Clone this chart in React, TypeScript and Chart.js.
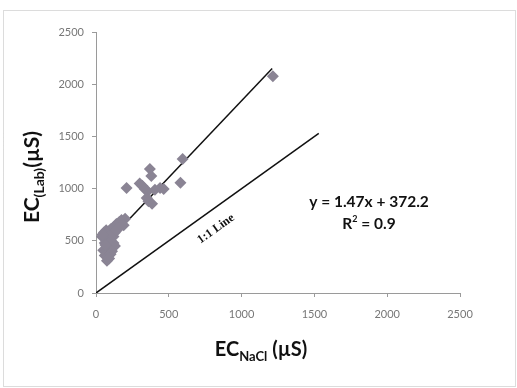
import { useEffect, useRef } from "react";
import { Chart, registerables } from "chart.js";
Chart.register(...registerables);

const ecNaCl = [
  1215, 595, 580, 370, 380, 210, 300, 318, 335, 355, 385, 405, 440, 465, 360, 348,
  40, 55, 70, 85, 100, 120, 140, 160, 175, 200, 190, 150, 130, 110, 90, 70,
  60, 80, 100, 120, 130, 50, 70, 90, 110, 60, 80, 100, 75, 90, 120, 140, 170, 45, 65,
];
const ecLab = [
  2075, 1283, 1055, 1188, 1120, 1005, 1050, 1028, 995, 975, 855, 990, 1005, 996, 880, 910,
  540, 580, 600, 590, 610, 630, 660, 680, 700, 712, 650, 620, 580, 560, 540, 520,
  480, 470, 500, 480, 450, 410, 400, 420, 400, 360, 350, 370, 310, 330, 540, 600, 640, 560, 460,
];
const trendX = [40, 1210];
const trendY = [431, 2151];
const oneToOneX = [0, 1530];
const oneToOneY = [0, 1530];
const xTicks = [0, 500, 1000, 1500, 2000, 2500];
const yTicks = [0, 500, 1000, 1500, 2000, 2500];
const equationText = "y = 1.47x + 372.2";
const r2Value = "0.9";
const oneToOneLabel = "1:1 Line";

function drawSub(ctx: CanvasRenderingContext2D, parts: { t: string; sub?: boolean }[], cx: number, cy: number, big: number, small: number) {
  const fontBig = `bold ${big}px Lato, "Open Sans", sans-serif`;
  const fontSmall = `bold ${small}px Lato, "Open Sans", sans-serif`;
  let total = 0;
  const widths = parts.map((p) => {
    ctx.font = p.sub ? fontSmall : fontBig;
    const w = ctx.measureText(p.t).width;
    total += w;
    return w;
  });
  let x = cx - total / 2;
  ctx.textAlign = "left";
  ctx.textBaseline = "alphabetic";
  parts.forEach((p, i) => {
    ctx.font = p.sub ? fontSmall : fontBig;
    ctx.fillText(p.t, x, p.sub ? cy + 5 : cy);
    x += widths[i];
  });
}

export default function App() {
  const ref = useRef<HTMLCanvasElement>(null);
  useEffect(() => {
    if (!ref.current) return;
    const overlay = {
      id: "overlay",
      beforeDraw(chart: any) {
        const ctx = chart.ctx;
        ctx.save();
        ctx.fillStyle = "#ffffff";
        ctx.fillRect(0, 0, chart.width, chart.height);
        ctx.restore();
      },
      afterDraw(chart: any) {
        const ctx = chart.ctx as CanvasRenderingContext2D;
        const xs = chart.scales.x;
        const ys = chart.scales.y;
        ctx.save();
        ctx.strokeStyle = "#b8b8b8";
        ctx.setLineDash([1, 1]);
        ctx.lineWidth = 1;
        ctx.strokeRect(3.5, 10.5, 512, 376);
        ctx.setLineDash([]);
        ctx.fillStyle = "#111111";
        drawSub(ctx, [{ t: "EC" }, { t: "NaCl", sub: true }, { t: " (\u00b5S)" }], 261, 356, 20, 13);
        ctx.save();
        ctx.translate(39, 177);
        ctx.rotate(-Math.PI / 2);
        drawSub(ctx, [{ t: "EC" }, { t: "(Lab)", sub: true }, { t: "(\u00b5S)" }], 0, 0, 21, 14);
        ctx.restore();
        const F = 'bold 15.5px Lato, "Open Sans", sans-serif';
        const FS = 'bold 9px Lato, "Open Sans", sans-serif';
        ctx.font = F;
        ctx.textAlign = "center";
        ctx.textBaseline = "middle";
        ctx.fillText(equationText, 369, 202);
        const rW = ctx.measureText("R").width;
        const restW = ctx.measureText(" = " + r2Value).width;
        ctx.font = FS;
        const sW = ctx.measureText("2").width;
        const tot = rW + sW + restW;
        const x0 = 369 - tot / 2;
        ctx.textAlign = "left";
        ctx.font = F;
        ctx.fillText("R", x0, 224);
        ctx.font = FS;
        ctx.fillText("2", x0 + rW, 219);
        ctx.font = F;
        ctx.fillText(" = " + r2Value, x0 + rW + sW, 224);
        const px1 = xs.getPixelForValue(oneToOneX[0]);
        const py1 = ys.getPixelForValue(oneToOneY[0]);
        const px2 = xs.getPixelForValue(oneToOneX[1]);
        const py2 = ys.getPixelForValue(oneToOneY[1]);
        const ang = Math.atan2(py2 - py1, px2 - px1);
        ctx.save();
        ctx.translate(216, 229);
        ctx.rotate(ang);
        ctx.font = 'bold 12px "Liberation Serif", "DejaVu Serif", serif';
        ctx.textAlign = "center";
        ctx.textBaseline = "middle";
        ctx.fillText(oneToOneLabel, 0, 0);
        ctx.restore();
        ctx.restore();
      },
    };
    const tickFont = { family: "Lato, 'Open Sans', sans-serif", size: 11 };
    const chart = new Chart(ref.current, {
      type: "scatter",
      data: {
        datasets: [
          {
            label: "EC",
            data: ecNaCl.map((x, i) => ({ x, y: ecLab[i] })),
            pointStyle: "rectRot",
            pointRadius: 6,
            backgroundColor: "#8a8494",
            borderColor: "#8a8494",
            borderWidth: 0,
          },
          {
            label: "Trend",
            type: "line",
            data: trendX.map((x, i) => ({ x, y: trendY[i] })),
            borderColor: "#111111",
            borderWidth: 1.5,
            pointRadius: 0,
            fill: false,
          },
          {
            label: "1:1",
            type: "line",
            data: oneToOneX.map((x, i) => ({ x, y: oneToOneY[i] })),
            borderColor: "#111111",
            borderWidth: 1.5,
            pointRadius: 0,
            fill: false,
          },
        ],
      },
      options: {
        animation: false,
        responsive: false,
        maintainAspectRatio: false,
        layout: { padding: { left: 0, top: 32, right: 57, bottom: 0 } },
        plugins: { legend: { display: false }, tooltip: { enabled: false } },
        scales: {
          x: {
            type: "linear",
            min: 0,
            max: 2500,
            afterFit(scale: any) { scale.height = 95; },
            afterBuildTicks(scale: any) { scale.ticks = xTicks.map((v) => ({ value: v })); },
            grid: { drawOnChartArea: false, drawTicks: true, tickLength: 4, color: "#9a9a9a" },
            border: { display: true, color: "#9a9a9a", width: 1 },
            ticks: { color: "#777777", padding: 11, font: tickFont, callback: (v: any) => String(v) },
          },
          y: {
            type: "linear",
            min: 0,
            max: 2500,
            afterFit(scale: any) { scale.width = 96; },
            afterBuildTicks(scale: any) { scale.ticks = yTicks.map((v) => ({ value: v })); },
            grid: { drawOnChartArea: false, drawTicks: true, tickLength: 4, color: "#9a9a9a" },
            border: { display: true, color: "#9a9a9a", width: 1 },
            ticks: { color: "#777777", padding: 8, font: tickFont, callback: (v: any) => String(v) },
          },
        },
      },
      plugins: [overlay],
    } as any);
    return () => chart.destroy();
  }, []);
  return (
    <div style={{ position: "fixed", left: 0, top: 0, width: 517, height: 388, background: "#fff" }}>
      <canvas ref={ref} width={517} height={388} style={{ width: 517, height: 388 }} />
    </div>
  );
}
